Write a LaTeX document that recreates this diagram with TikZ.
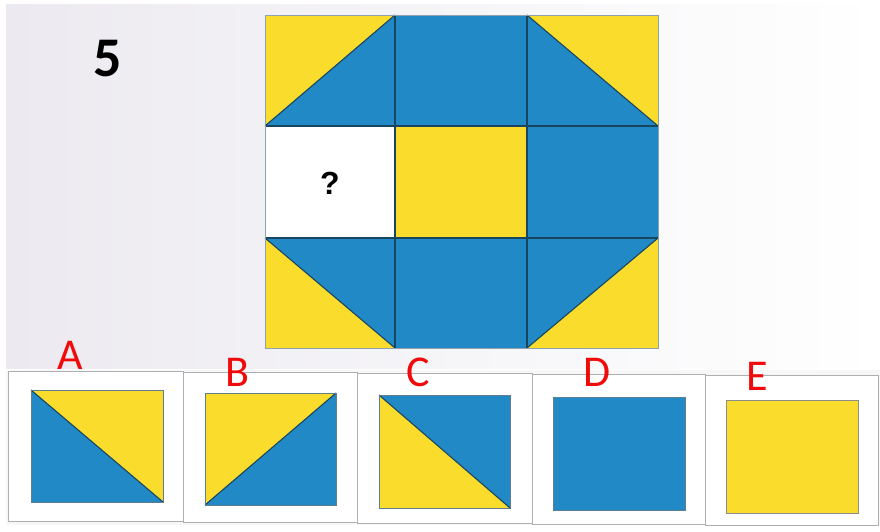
\documentclass[tikz,border=0pt]{standalone}
\usepackage{fontspec}
\setmainfont{Carlito}
\newfontfamily\qfont{Liberation Sans}
\definecolor{pblue}{RGB}{33,137,198}
\definecolor{pyellow}{RGB}{250,220,45}
\definecolor{pedge}{RGB}{25,70,95}
\definecolor{lbl}{RGB}{240,10,10}
\definecolor{framegray}{RGB}{175,175,178}
\definecolor{bgleft}{RGB}{236,234,240}
\begin{document}
\begin{tikzpicture}[x=1pt,y=-1pt,
  cellline/.style={draw=pedge,line width=1.1pt},
  yel/.style={fill=pyellow},
  blu/.style={fill=pblue},
  optbox/.style={draw=framegray,line width=0.8pt,fill=white},
  optlabel/.style={text=lbl,font=\fontsize{44}{44}\selectfont,inner sep=0pt}]
\useasboundingbox (0,0) rectangle (880,531);
\fill[white] (0,0) rectangle (880,531);
\shade[left color=bgleft,right color=white] (6,4) rectangle (880,368);
% main grid
% top-left
\fill[yel] (265,15) -- (395,15) -- (265,126) -- cycle;
\fill[blu] (395,15) -- (395,126) -- (265,126) -- cycle;
\draw[cellline] (265,126) -- (395,15);
% top-middle
\fill[blu] (395,15) rectangle (527,126);
% top-right
\fill[yel] (527,15) -- (658,15) -- (658,126) -- cycle;
\fill[blu] (527,15) -- (658,126) -- (527,126) -- cycle;
\draw[cellline] (527,15) -- (658,126);
% middle row
\fill[white] (265,126) rectangle (395,238);
\fill[yel] (395,126) rectangle (527,238);
\fill[blu] (527,126) rectangle (658,238);
% bottom-left
\fill[yel] (265,238) -- (395,348) -- (265,348) -- cycle;
\fill[blu] (265,238) -- (395,238) -- (395,348) -- cycle;
\draw[cellline] (265,238) -- (395,348);
% bottom-middle
\fill[blu] (395,238) rectangle (527,348);
% bottom-right
\fill[yel] (658,238) -- (658,348) -- (527,348) -- cycle;
\fill[blu] (527,238) -- (658,238) -- (527,348) -- cycle;
\draw[cellline] (658,238) -- (527,348);
% grid lines
\draw[cellline] (395,15) -- (395,348);
\draw[cellline] (527,15) -- (527,348);
\draw[cellline] (265,126) -- (658,126);
\draw[cellline] (265,238) -- (658,238);
\draw[draw=pedge!50,line width=0.6pt] (265,15) rectangle (658,348);
\node[font=\qfont\bfseries\fontsize{32}{32}\selectfont,inner sep=0pt] (q) at (330,183) {?};
\node[font=\bfseries\fontsize{56}{56}\selectfont,inner sep=0pt] (num) at (108,59) {5};
% options
\fill[black!3] (6,370) rectangle (880,525);
\draw[optbox] (8,371) rectangle (183,521);
\draw[optbox] (183,372) rectangle (357,522);
\draw[optbox] (357,373) rectangle (532,523);
\draw[optbox] (532,374) rectangle (705,524);
\draw[optbox] (705,375) rectangle (878,525);
% A
\fill[yel] (31,390) -- (163,390) -- (163,502) -- cycle;
\fill[blu] (31,390) -- (163,502) -- (31,502) -- cycle;
\draw[cellline] (31,390) -- (163,502);
\draw[draw=pedge!70,line width=0.6pt] (31,390) rectangle (163,502);
% B
\fill[yel] (205,393) -- (336,393) -- (205,505) -- cycle;
\fill[blu] (336,393) -- (336,505) -- (205,505) -- cycle;
\draw[cellline] (205,505) -- (336,393);
\draw[draw=pedge!70,line width=0.6pt] (205,393) rectangle (336,505);
% C
\fill[blu] (379,395) -- (510,395) -- (510,508) -- cycle;
\fill[yel] (379,395) -- (510,508) -- (379,508) -- cycle;
\draw[cellline] (379,395) -- (510,508);
\draw[draw=pedge!70,line width=0.6pt] (379,395) rectangle (510,508);
% D
\fill[blu] (553,397) rectangle (685,510);
\draw[draw=pedge!70,line width=0.6pt] (553,397) rectangle (685,510);
% E
\fill[yel] (726,400) rectangle (858,513);
\draw[draw=black!45,line width=0.6pt] (726,400) rectangle (858,513);
% labels
\node[optlabel] (la) at (70,355) {A};
\node[optlabel] (lb) at (237,372) {B};
\node[optlabel] (lc) at (418,372) {C};
\node[optlabel] (ld) at (597,372) {D};
\node[optlabel] (le) at (757,376) {E};
\end{tikzpicture}
\end{document}
